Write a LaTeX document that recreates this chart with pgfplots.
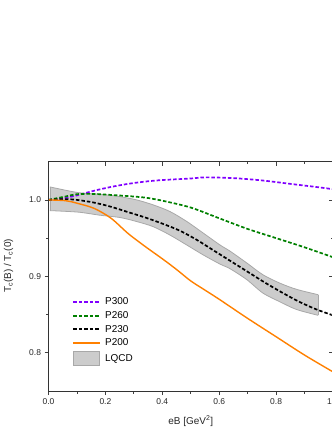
\documentclass[border=0pt]{standalone}
\usepackage{fontspec}
\setmainfont{Liberation Sans}
\usepackage{pgfplots}
\pgfplotsset{compat=1.18}
\usepgfplotslibrary{fillbetween}
\usetikzlibrary{calc}

\definecolor{cPurple}{RGB}{128,0,255}
\definecolor{cGreen}{RGB}{0,128,0}
\definecolor{cOrange}{RGB}{255,128,0}
\definecolor{lqFill}{RGB}{204,204,204}
\definecolor{lqEdge}{RGB}{168,168,168}

\pgfplotsset{
  base/.style={scale only axis, width=284.5bp, height=229.3bp,
    xmin=0, xmax=1, ymin=0.75, ymax=1.05,
    xtick={0,0.2,0.4,0.6,0.8,1.0}, ytick={0.8,0.9,1.0},
    minor x tick num=1, minor y tick num=1,
    axis line style={black!80, line width=0.8bp},
    major tick length=4bp, minor tick length=2.5bp,
    every tick/.style={black!75, line width=0.8bp}},
  dashline/.style={line width=1.7bp, dash pattern=on 3.5bp off 2bp, smooth},
}

\begin{document}
\begin{tikzpicture}
\begin{axis}[base, set layers, tick align=outside, xtick pos=left, ytick pos=left,
  ticklabel style={font=\fontsize{8.5}{10}\selectfont, text=black!85},
  /pgf/number format/fixed, /pgf/number format/fixed zerofill,
  /pgf/number format/precision=1, /pgf/number format/assume math mode=true,
  label style={font=\fontsize{10}{12}\selectfont, text=black!85},
  xlabel={eB [GeV\textsuperscript{2}]},
  ylabel={T\textsubscript{c}(B) / T\textsubscript{c}(0)},
  xlabel style={at={(axis description cs:0.5,-0.13)}, anchor=center},
  ylabel style={at={(axis description cs:-0.14,0.545)}, anchor=center},
  legend style={at={(axis description cs:0.073,0.42)}, anchor=north west,
    draw=none, fill=none, font=\fontsize{10}{12}\selectfont,
    row sep=3.1bp, column sep=4bp,
    nodes={inner sep=0bp, text height=8bp, text depth=2.5bp}},
  legend cell align=left,
  legend image code/.code={\draw[#1] (0bp,0bp) -- (27bp,0bp);},
]
% LQCD band edges
\addplot[name path=up, draw=lqEdge, line width=0.8bp, smooth, forget plot] coordinates {
(0.005,1.017) (0.105,1.0095) (0.18,1.0075) (0.251,1.0043) (0.310,1.0)
(0.368,0.9935) (0.427,0.9848) (0.486,0.9718) (0.544,0.9566) (0.603,0.941)
(0.638,0.933) (0.697,0.9175) (0.754,0.902) (0.814,0.891) (0.872,0.883)
(0.948,0.876)
};
\addplot[name path=lo, draw=lqEdge, line width=0.8bp, smooth, forget plot] coordinates {
(0.005,0.986) (0.105,0.984) (0.18,0.980) (0.251,0.977) (0.310,0.9717)
(0.368,0.965) (0.427,0.954) (0.486,0.941) (0.544,0.928) (0.603,0.916)
(0.638,0.910) (0.697,0.8957) (0.754,0.878) (0.814,0.8666) (0.872,0.8566)
(0.948,0.849)
};
\addplot[lqFill, forget plot] fill between[of=up and lo];
\addplot[draw=lqEdge, line width=0.8bp, forget plot] coordinates {(0.948,0.876) (0.948,0.849)};
\addplot[draw=lqEdge, line width=0.8bp, forget plot] coordinates {(0.005,1.017) (0.005,0.986)};

\addplot[cPurple, dashline] coordinates {
(0,1.0) (0.05,1.002) (0.10,1.006) (0.16,1.012) (0.22,1.017) (0.28,1.021)
(0.34,1.024) (0.40,1.026) (0.50,1.028) (0.55,1.0295) (0.65,1.0285)
(0.75,1.0255) (0.85,1.021) (0.95,1.0165) (1.0,1.014)
};
\addlegendentry{P300}

\addplot[cGreen, dashline] coordinates {
(0,1.0) (0.06,1.0045) (0.10,1.0075) (0.16,1.0078) (0.22,1.0065) (0.28,1.005)
(0.34,1.003) (0.40,0.999) (0.50,0.990) (0.60,0.976) (0.70,0.962) (0.80,0.950)
(0.90,0.938) (1.0,0.925)
};
\addlegendentry{P260}

\addplot[black, dashline] coordinates {
(0,1.0) (0.06,1.001) (0.10,1.0) (0.16,0.9965) (0.22,0.991) (0.28,0.984)
(0.34,0.977) (0.40,0.969) (0.46,0.960) (0.52,0.948) (0.58,0.934) (0.64,0.920)
(0.70,0.906) (0.76,0.892) (0.82,0.879) (0.88,0.867) (0.94,0.857) (1.0,0.849)
};
\addlegendentry{P230}

\addplot[cOrange, line width=1.4bp, smooth] coordinates {
(0,1.0) (0.06,0.999) (0.10,0.9957) (0.16,0.989) (0.22,0.976) (0.28,0.956)
(0.34,0.939) (0.40,0.923) (0.45,0.909) (0.50,0.894) (0.55,0.882) (0.60,0.870)
(0.70,0.845) (0.80,0.821) (0.90,0.797) (1.0,0.775)
};
\addlegendentry{P200}

\addlegendimage{legend image code/.code={\draw[fill=lqFill, draw=lqEdge, line width=0.8bp] (0bp,-6.8bp) rectangle (26bp,6.8bp);}}
\addlegendentry{LQCD}

\coordinate (sw) at (rel axis cs:0,0);
\coordinate (ne) at (rel axis cs:1,1);
\end{axis}
\begin{axis}[base, tick align=inside, xtick pos=right, ytick pos=right,
  xticklabels={}, yticklabels={}]
\end{axis}
\pgfresetboundingbox
\path[use as bounding box] ($(sw)+(-48.5bp,-39bp)$) rectangle ($(ne)+(-1bp,161.7bp)$);
\end{tikzpicture}
\end{document}
